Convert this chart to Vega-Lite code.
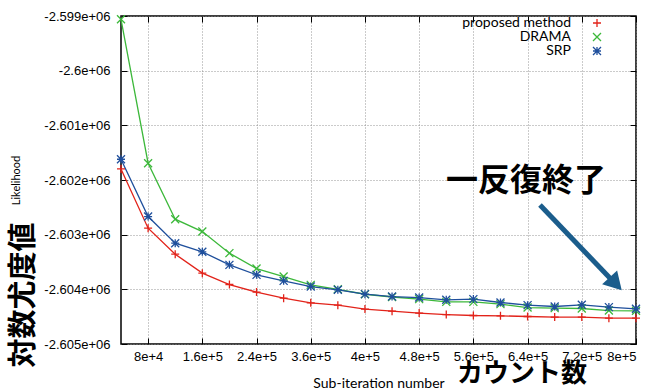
{
  "$schema": "https://vega.github.io/schema/vega-lite/v6.json",
  "width": 515,
  "height": 328,
  "autosize": {"type": "none"},
  "padding": {"left": 121, "top": 16, "right": 16, "bottom": 46},
  "background": "white",
  "config": {
    "view": {"stroke": "black", "strokeWidth": 1.5},
    "axis": {
      "labelFont": "Liberation Sans",
      "labelFontSize": 13,
      "labelColor": "black",
      "tickColor": "black",
      "domain": false,
      "gridColor": "#8a8a8a",
      "gridDash": [1, 2],
      "gridWidth": 0.9
    }
  },
  "datasets": {
    "series": [
      {"x": 40000, "s": "proposed method", "y": -2601797},
      {"x": 80000, "s": "proposed method", "y": -2602881},
      {"x": 120000, "s": "proposed method", "y": -2603357},
      {"x": 160000, "s": "proposed method", "y": -2603704},
      {"x": 200000, "s": "proposed method", "y": -2603912},
      {"x": 240000, "s": "proposed method", "y": -2604051},
      {"x": 280000, "s": "proposed method", "y": -2604161},
      {"x": 320000, "s": "proposed method", "y": -2604247},
      {"x": 360000, "s": "proposed method", "y": -2604290},
      {"x": 400000, "s": "proposed method", "y": -2604362},
      {"x": 440000, "s": "proposed method", "y": -2604399},
      {"x": 480000, "s": "proposed method", "y": -2604435},
      {"x": 520000, "s": "proposed method", "y": -2604461},
      {"x": 560000, "s": "proposed method", "y": -2604479},
      {"x": 600000, "s": "proposed method", "y": -2604484},
      {"x": 640000, "s": "proposed method", "y": -2604497},
      {"x": 680000, "s": "proposed method", "y": -2604508},
      {"x": 720000, "s": "proposed method", "y": -2604508},
      {"x": 760000, "s": "proposed method", "y": -2604527},
      {"x": 800000, "s": "proposed method", "y": -2604527},
      {"x": 40000, "s": "DRAMA", "y": -2599060},
      {"x": 80000, "s": "DRAMA", "y": -2601693},
      {"x": 120000, "s": "DRAMA", "y": -2602717},
      {"x": 160000, "s": "DRAMA", "y": -2602943},
      {"x": 200000, "s": "DRAMA", "y": -2603338},
      {"x": 240000, "s": "DRAMA", "y": -2603620},
      {"x": 280000, "s": "DRAMA", "y": -2603766},
      {"x": 320000, "s": "DRAMA", "y": -2603918},
      {"x": 360000, "s": "DRAMA", "y": -2604000},
      {"x": 400000, "s": "DRAMA", "y": -2604090},
      {"x": 440000, "s": "DRAMA", "y": -2604140},
      {"x": 480000, "s": "DRAMA", "y": -2604179},
      {"x": 520000, "s": "DRAMA", "y": -2604229},
      {"x": 560000, "s": "DRAMA", "y": -2604229},
      {"x": 600000, "s": "DRAMA", "y": -2604271},
      {"x": 640000, "s": "DRAMA", "y": -2604333},
      {"x": 680000, "s": "DRAMA", "y": -2604344},
      {"x": 720000, "s": "DRAMA", "y": -2604351},
      {"x": 760000, "s": "DRAMA", "y": -2604388},
      {"x": 800000, "s": "DRAMA", "y": -2604393},
      {"x": 40000, "s": "SRP", "y": -2601620},
      {"x": 80000, "s": "SRP", "y": -2602669},
      {"x": 120000, "s": "SRP", "y": -2603156},
      {"x": 160000, "s": "SRP", "y": -2603314},
      {"x": 200000, "s": "SRP", "y": -2603552},
      {"x": 240000, "s": "SRP", "y": -2603735},
      {"x": 280000, "s": "SRP", "y": -2603845},
      {"x": 320000, "s": "SRP", "y": -2603949},
      {"x": 360000, "s": "SRP", "y": -2604009},
      {"x": 400000, "s": "SRP", "y": -2604088},
      {"x": 440000, "s": "SRP", "y": -2604132},
      {"x": 480000, "s": "SRP", "y": -2604150},
      {"x": 520000, "s": "SRP", "y": -2604192},
      {"x": 560000, "s": "SRP", "y": -2604179},
      {"x": 600000, "s": "SRP", "y": -2604241},
      {"x": 640000, "s": "SRP", "y": -2604289},
      {"x": 680000, "s": "SRP", "y": -2604314},
      {"x": 720000, "s": "SRP", "y": -2604283},
      {"x": 760000, "s": "SRP", "y": -2604325},
      {"x": 800000, "s": "SRP", "y": -2604356}
    ],
    "arrow": [{"x": 658330, "y": -2602457, "x2": 772000, "y2": -2603930}],
    "head": [{"x": 770000, "y": -2603900}],
    "note1": [{"x": 637670, "y": -2602018, "t": "一反復終了"}],
    "note2": [{"x": 631767, "y": -2605549, "t": "カウント数"}],
    "note3": [{"x": -103145, "y": -2604104, "t": "対数尤度値"}]
  },
  "layer": [
    {
      "data": {"name": "series"},
      "mark": {"type": "line", "strokeWidth": 1.3},
      "encoding": {
        "x": {
          "field": "x", "type": "quantitative",
          "scale": {"domain": [40000, 800000], "nice": false, "zero": false},
          "axis": {
            "orient": "bottom",
            "values": [80000, 160000, 240000, 320000, 400000, 480000, 560000, 640000, 720000, 800000],
            "labelExpr": "datum.value == 320000 ? '3.6e+5' : format(datum.value, '.2~e')",
            "tickSize": -6,
            "labelPadding": 12,
            "grid": true,
            "title": "Sub-iteration number",
            "titleFont": "Lato",
            "titleFontSize": 14,
            "titleFontWeight": "normal",
            "titleColor": "black",
            "titleY": 39,
            "titleBaseline": "middle"
          }
        },
        "y": {
          "field": "y", "type": "quantitative",
          "scale": {"domain": [-2605000, -2599000], "nice": false, "zero": false},
          "axis": {
            "orient": "left",
            "values": [-2605000, -2604000, -2603000, -2602000, -2601000, -2600000, -2599000],
            "labelExpr": "'-' + format(-datum.value / 1000000, '.4~g') + 'e+06'",
            "tickSize": -6,
            "labelPadding": 17,
            "grid": true,
            "title": "Likelihood",
            "titleFont": "Lato",
            "titleFontSize": 11,
            "titleFontWeight": "normal",
            "titleColor": "black",
            "titleAngle": 270,
            "titleX": -105,
            "titleY": 164,
            "titleAlign": "center",
            "titleBaseline": "middle"
          }
        },
        "color": {
          "field": "s", "type": "nominal",
          "scale": {"domain": ["proposed method", "DRAMA", "SRP"], "range": ["#e2231a", "#3cb83a", "#1f4f9c"]},
          "legend": {
            "orient": "none",
            "legendX": 469,
            "legendY": 0,
            "title": null,
            "padding": 0,
            "rowPadding": -3,
            "labelAlign": "right",
            "labelOffset": -33,
            "labelFont": "Lato",
            "labelFontSize": 14,
            "labelColor": "black",
            "symbolSize": 64,
            "symbolStrokeWidth": 1.3
          }
        }
      }
    },
    {
      "data": {"name": "series"},
      "mark": {"type": "point", "filled": false, "strokeWidth": 1.3, "size": 64, "opacity": 1},
      "encoding": {
        "x": {"field": "x", "type": "quantitative", "axis": null},
        "y": {"field": "y", "type": "quantitative", "axis": null},
        "color": {"field": "s", "type": "nominal"},
        "shape": {
          "field": "s", "type": "nominal",
          "scale": {"domain": ["proposed method", "DRAMA", "SRP"], "range": ["M-1,0H1M0,-1V1", "M-1,-1L1,1M-1,1L1,-1", "M-1,0H1M0,-1V1M-1,-1L1,1M-1,1L1,-1"]},
          "legend": null
        }
      }
    },
    {
      "data": {"name": "series"},
      "mark": {"type": "point", "opacity": 0},
      "encoding": {
        "x": {"field": "x", "type": "quantitative", "axis": {"orient": "top", "values": [80000, 160000, 240000, 320000, 400000, 480000, 560000, 640000, 720000, 800000], "labels": false, "grid": false, "tickSize": -6, "title": null}},
        "y": {"field": "y", "type": "quantitative", "axis": {"orient": "right", "values": [-2605000, -2604000, -2603000, -2602000, -2601000, -2600000, -2599000], "labels": false, "grid": false, "tickSize": -6, "title": null}}
      }
    },
    {
      "data": {"name": "arrow"},
      "mark": {"type": "rule", "color": "#1b5d8c", "strokeWidth": 5},
      "encoding": {
        "x": {"field": "x", "type": "quantitative", "axis": null},
        "y": {"field": "y", "type": "quantitative", "axis": null},
        "x2": {"field": "x2"},
        "y2": {"field": "y2"}
      }
    },
    {
      "data": {"name": "head"},
      "mark": {"type": "point", "shape": "triangle-up", "filled": true, "color": "#1b5d8c", "size": 420, "angle": 137, "opacity": 1},
      "encoding": {
        "x": {"field": "x", "type": "quantitative", "axis": null},
        "y": {"field": "y", "type": "quantitative", "axis": null}
      }
    },
    {
      "data": {"name": "note1"},
      "mark": {"type": "text", "font": "Noto Sans CJK JP", "fontWeight": "bold", "fontSize": 32, "color": "black", "align": "center", "baseline": "middle"},
      "encoding": {
        "x": {"field": "x", "type": "quantitative", "axis": null},
        "y": {"field": "y", "type": "quantitative", "axis": null},
        "text": {"field": "t"}
      }
    },
    {
      "data": {"name": "note2"},
      "mark": {"type": "text", "font": "Noto Sans CJK JP", "fontWeight": "bold", "fontSize": 26, "color": "black", "align": "center", "baseline": "middle"},
      "encoding": {
        "x": {"field": "x", "type": "quantitative", "axis": null},
        "y": {"field": "y", "type": "quantitative", "axis": null},
        "text": {"field": "t"}
      }
    },
    {
      "data": {"name": "note3"},
      "mark": {"type": "text", "font": "Noto Sans CJK JP", "fontWeight": "bold", "fontSize": 29, "color": "black", "align": "center", "baseline": "middle", "angle": 270},
      "encoding": {
        "x": {"field": "x", "type": "quantitative", "axis": null},
        "y": {"field": "y", "type": "quantitative", "axis": null},
        "text": {"field": "t"}
      }
    }
  ]
}
